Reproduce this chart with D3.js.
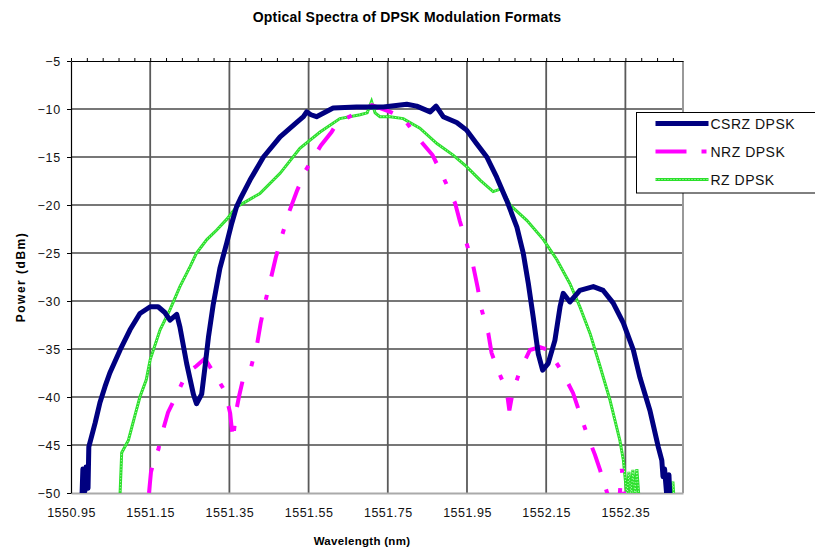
<!DOCTYPE html>
<html>
<head>
<meta charset="utf-8">
<script src="https://cdn.jsdelivr.net/npm/d3@7"></script>
<style>
  body { margin: 0; background: #fff; }
  text { font-family: Arial, "Liberation Sans", sans-serif; }
</style>
</head>
<body>
<div id="chart"></div>
<script>
// axis ticks
var wavelengthTicks = [1550.95, 1551.15, 1551.35, 1551.55, 1551.75, 1551.95, 1552.15, 1552.35];
var powerTicks = [-50, -45, -40, -35, -30, -25, -20, -15, -10, -5];

// CSRZ DPSK
var csrzWavelength = [1550.978,1550.980,1550.985,1550.988,1550.993,1550.995,1551.011,1551.023,1551.036,1551.048,1551.074,1551.099,1551.124,1551.150,1551.170,1551.187,1551.200,1551.217,1551.225,1551.242,1551.259,1551.267,1551.280,1551.288,1551.297,1551.309,1551.326,1551.343,1551.356,1551.368,1551.377,1551.402,1551.436,1551.478,1551.520,1551.537,1551.545,1551.556,1551.570,1551.612,1551.671,1551.739,1551.798,1551.823,1551.857,1551.872,1551.890,1551.924,1551.949,1551.974,1552.000,1552.025,1552.050,1552.076,1552.092,1552.105,1552.117,1552.130,1552.141,1552.155,1552.172,1552.185,1552.193,1552.210,1552.235,1552.269,1552.294,1552.319,1552.345,1552.370,1552.387,1552.412,1552.433,1552.442,1552.445,1552.449,1552.454,1552.458,1552.460,1552.463];
var csrzPower = [-50,-47.5,-49.8,-47.3,-49.5,-45.2,-42.7,-40.6,-38.9,-37.5,-35.1,-33.0,-31.3,-30.6,-30.6,-31.2,-32.0,-31.4,-32.7,-36.5,-39.7,-40.7,-39.7,-37.0,-33.8,-30.4,-26.6,-24.0,-21.9,-20.2,-19.4,-17.4,-15.0,-12.9,-11.4,-10.8,-10.3,-10.6,-10.8,-9.9,-9.8,-9.8,-9.5,-9.7,-10.3,-9.7,-10.8,-11.4,-12.2,-13.6,-15.0,-17.1,-19.5,-22.3,-25.0,-28.2,-31.6,-35.5,-37.2,-36.5,-34.1,-30.6,-29.2,-30.1,-28.9,-28.5,-28.9,-30.2,-32.3,-35.1,-38.0,-41.4,-45.2,-46.6,-48.3,-47.5,-50,-50.5,-48.1,-51];

// NRZ DPSK
var nrzWavelength = [1551.139,1551.147,1551.152,1551.162,1551.171,1551.177,1551.195,1551.220,1551.242,1551.266,1551.288,1551.314,1551.339,1551.352,1551.359,1551.367,1551.374,1551.384,1551.404,1551.420,1551.429,1551.440,1551.455,1551.467,1551.482,1551.501,1551.520,1551.541,1551.581,1551.608,1551.621,1551.662,1551.697,1551.710,1551.756,1551.788,1551.826,1551.863,1551.889,1551.920,1551.932,1551.949,1551.966,1551.977,1551.987,1552.004,1552.012,1552.028,1552.050,1552.057,1552.065,1552.084,1552.109,1552.134,1552.155,1552.192,1552.218,1552.235,1552.256,1552.273,1552.286,1552.304,1552.316,1552.334,1552.341,1552.347,1552.352];
var nrzPower = [-52,-50,-47.8,-46.3,-45.4,-44.2,-41.6,-39.5,-37.5,-36.8,-36.0,-37.7,-39.4,-41.7,-44.5,-41.5,-40.0,-38.2,-37.0,-34.5,-32.3,-30.2,-27.6,-25.5,-23.3,-20.7,-18.6,-16.5,-13.8,-12.4,-11.5,-10.6,-9.9,-9.6,-10.3,-10.9,-13.0,-14.8,-17.0,-19.8,-21.7,-24.0,-26.4,-28.6,-30.9,-33.4,-35.4,-37.2,-39.3,-41.4,-39.6,-37.2,-35.1,-34.8,-35.1,-37.5,-39.6,-41.7,-44.2,-46.0,-47.6,-50,-52,-51,-47.5,-50,-52];

// RZ DPSK
var rzWavelength = [1551.072,1551.074,1551.078,1551.095,1551.111,1551.124,1551.140,1551.150,1551.175,1551.200,1551.225,1551.251,1551.267,1551.293,1551.318,1551.343,1551.368,1551.385,1551.427,1551.478,1551.528,1551.579,1551.629,1551.680,1551.698,1551.709,1551.718,1551.730,1551.756,1551.789,1551.831,1551.874,1551.915,1551.949,1551.983,1552.016,1552.038,1552.059,1552.101,1552.143,1552.177,1552.210,1552.235,1552.261,1552.286,1552.311,1552.336,1552.345,1552.349,1552.354,1552.359,1552.364,1552.369,1552.374,1552.379,1552.384,1552.389,1552.455,1552.460,1552.465,1552.470,1552.475];
var rzPower = [-52,-50,-45.8,-44.5,-42,-40,-38.2,-36.1,-33,-30.9,-28.5,-26.4,-25.0,-23.6,-22.6,-21.5,-20.2,-19.8,-18.8,-16.7,-14.1,-12.4,-11.0,-10.6,-10.4,-9.2,-10.4,-10.8,-10.8,-11.0,-12.0,-13.6,-14.8,-16.0,-17.4,-18.6,-18.3,-20.0,-21.6,-23.6,-25.7,-28.2,-30.6,-33.4,-36.8,-40.3,-44.5,-46.6,-48.3,-50.3,-47.8,-50.3,-47.6,-50.3,-47.5,-50.3,-52,-52,-48.4,-50.3,-48.8,-52];

var seriesNames = ["CSRZ DPSK", "NRZ DPSK", "RZ DPSK"];

// set the dimensions and margins of the graph
var margin = {top: 61, right: 132, bottom: 55, left: 71},
  width = 815 - margin.left - margin.right,
  height = 548 - margin.top - margin.bottom;

var svg = d3.select("#chart")
  .append("svg")
    .attr("width", 815)
    .attr("height", 548)
  .append("g")
    .attr("transform", "translate(" + margin.left + "," + margin.top + ")");

var x = d3.scaleLinear().domain([1550.95, 1552.4955]).range([0, width]);
var y = d3.scaleLinear().domain([-50, -5]).range([height, 0]);

// gridlines
svg.append("g")
  .selectAll("line")
  .data(powerTicks.filter(function(d) { return d > -50 && d < -5; }))
  .enter().append("line")
    .attr("x1", 0).attr("x2", width)
    .attr("y1", function(d) { return y(d); })
    .attr("y2", function(d) { return y(d); })
    .style("stroke", "#4a4a4a")
    .style("stroke-width", 1.5);

svg.append("g")
  .selectAll("line")
  .data(wavelengthTicks.slice(1))
  .enter().append("line")
    .attr("x1", function(d) { return x(d); })
    .attr("x2", function(d) { return x(d); })
    .attr("y1", 0).attr("y2", height)
    .style("stroke", "#5a5a5a")
    .style("stroke-width", 1.8);

// right border
svg.append("line")
  .attr("x1", width).attr("x2", width).attr("y1", 0).attr("y2", height)
  .style("stroke", "#999").style("stroke-width", 2);

// bottom axis (labels only, border line in grey)
var xAxis = svg.append("g")
  .attr("transform", "translate(0," + height + ")")
  .call(d3.axisBottom(x).tickValues(wavelengthTicks).tickSize(0).tickSizeOuter(0).tickPadding(15)
    .tickFormat(d3.format(".2f")));
xAxis.select(".domain").style("stroke", "#aaa").style("stroke-width", 2);
xAxis.selectAll("text").style("font-size", "12.5px").style("letter-spacing", "0.5px").style("fill", "#111");

// top border with small tick marks
var minorTicks = d3.range(0, 39).map(function(i) { return 1550.95 + i * 0.04; });
var topAxis = svg.append("g")
  .call(d3.axisTop(x).tickValues(minorTicks).tickSize(3).tickSizeOuter(0).tickFormat(""));
topAxis.select(".domain").style("stroke", "#000").style("stroke-width", 1.2);

// left axis
var yAxis = svg.append("g")
  .call(d3.axisLeft(y).tickValues(powerTicks).tickSize(4).tickSizeOuter(0).tickPadding(6));
yAxis.select(".domain").style("stroke", "#000").style("stroke-width", 1.2);
yAxis.selectAll("text").style("font-size", "12.5px").style("letter-spacing", "0.8px").style("fill", "#111");

// clip the curves to the plot area
svg.append("clipPath").attr("id", "plotClip")
  .append("rect").attr("width", width).attr("height", height);

var line = d3.line()
  .x(function(d) { return x(d[0]); })
  .y(function(d) { return y(d[1]); });

var curves = svg.append("g").attr("clip-path", "url(#plotClip)");

// RZ DPSK
curves.append("path")
  .datum(d3.zip(rzWavelength, rzPower))
  .attr("d", line)
  .style("fill", "none")
  .style("stroke", "#2be02b")
  .style("stroke-width", 3);
curves.append("path")
  .datum(d3.zip(rzWavelength, rzPower))
  .attr("d", line)
  .style("fill", "none")
  .style("stroke", "#c8ffc8")
  .style("stroke-width", 1)
  .style("stroke-dasharray", "1,2");

// NRZ DPSK
curves.append("path")
  .datum(d3.zip(nrzWavelength, nrzPower))
  .attr("d", line)
  .style("fill", "none")
  .style("stroke", "#ff00ff")
  .style("stroke-width", 4)
  .style("stroke-dasharray", "26,18,5,19")
  .style("stroke-dashoffset", 49);

// CSRZ DPSK
curves.append("path")
  .datum(d3.zip(csrzWavelength, csrzPower))
  .attr("d", line)
  .style("fill", "none")
  .style("stroke", "#000080")
  .style("stroke-width", 5)
  .style("stroke-linejoin", "round");

// title
d3.select("svg").append("text")
  .attr("x", 407).attr("y", 22)
  .attr("text-anchor", "middle")
  .style("font-size", "14px")
  .style("font-weight", "bold")
  .style("letter-spacing", "0.2px")
  .text("Optical Spectra of DPSK Modulation Formats");

// axis titles
svg.append("text")
  .attr("x", 291).attr("y", height + 52)
  .attr("text-anchor", "middle")
  .style("font-size", "11.5px")
  .style("font-weight", "bold")
  .style("letter-spacing", "0.3px")
  .text("Wavelength (nm)");

svg.append("text")
  .attr("transform", "translate(-46," + (height / 2) + ") rotate(-90)")
  .attr("text-anchor", "middle")
  .style("font-size", "12px")
  .style("font-weight", "bold")
  .style("letter-spacing", "1.5px")
  .text("Power (dBm)");

// Legend
var legend = d3.select("svg").append("g").attr("transform", "translate(636.5,112.5)");
legend.append("rect")
  .attr("width", 190).attr("height", 80.5)
  .style("fill", "#fff").style("stroke", "#000").style("stroke-width", 1);

var legendY = d3.scalePoint().domain(seriesNames).range([11, 67]);
var legendStyle = {
  "CSRZ DPSK": {stroke: "#000080", width: 5, dash: null},
  "NRZ DPSK": {stroke: "#ff00ff", width: 4, dash: "31,15,5,20"},
  "RZ DPSK": {stroke: "#2be02b", width: 3, dash: null}
};

legend.selectAll("line.sample")
  .data(seriesNames)
  .enter().append("line")
    .attr("class", "sample")
    .attr("x1", 19).attr("x2", 72)
    .attr("y1", function(d) { return legendY(d); })
    .attr("y2", function(d) { return legendY(d); })
    .style("stroke", function(d) { return legendStyle[d].stroke; })
    .style("stroke-width", function(d) { return legendStyle[d].width; })
    .style("stroke-dasharray", function(d) { return legendStyle[d].dash; });

legend.append("line")
  .attr("x1", 19).attr("x2", 72)
  .attr("y1", legendY("RZ DPSK")).attr("y2", legendY("RZ DPSK"))
  .style("stroke", "#c8ffc8").style("stroke-width", 1).style("stroke-dasharray", "1,2");

legend.selectAll("text")
  .data(seriesNames)
  .enter().append("text")
    .attr("x", 74)
    .attr("y", function(d) { return legendY(d); })
    .attr("dy", "0.36em")
    .style("font-size", "14px")
    .style("letter-spacing", "0.5px")
    .style("fill", "#111")
    .text(function(d) { return d; });
</script>
</body>
</html>
